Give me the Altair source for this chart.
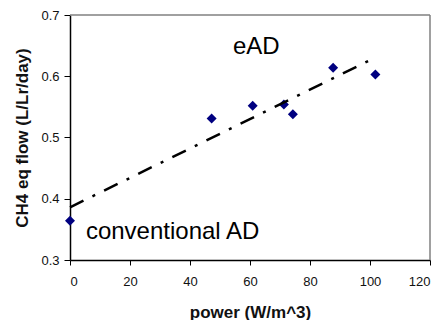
import altair as alt
import pandas as pd

# measured points
power = [0, 47.2, 60.9, 71.3, 74.3, 87.7, 101.8]
ch4_flow = [0.364, 0.531, 0.552, 0.554, 0.538, 0.614, 0.603]

# linear trend line end points
trend_x = [0, 100.3]
trend_y = [0.386, 0.627]

# annotations
ann_text = ["eAD", "conventional AD"]
ann_x = [54.3, 5.3]
ann_y = [0.636, 0.334]

x_ticks = [0, 20, 40, 60, 80, 100, 120]
y_ticks = [0.3, 0.4, 0.5, 0.6, 0.7]

FONT = "Liberation Sans"

pts = pd.DataFrame({"power": power, "ch4": ch4_flow})
trend = pd.DataFrame({"power": trend_x, "ch4": trend_y})
ann = pd.DataFrame({"label": ann_text, "power": ann_x, "ch4": ann_y})

xscale = alt.Scale(domain=[0, 120], nice=False, zero=False)
yscale = alt.Scale(domain=[0.3, 0.7], nice=False, zero=False)

xaxis = alt.Axis(
    title="power (W/m^3)", values=x_ticks, grid=False, format="d",
    domainColor="black", domainWidth=1.5, tickColor="black", tickSize=5, labelPadding=10,
    labelFont=FONT, labelFontSize=13, labelColor="#111",
    titleFont=FONT, titleFontSize=17, titleFontWeight="bold", titleColor="#111",
    titleY=57, titleBaseline="alphabetic",
)
yaxis = alt.Axis(
    title="CH4 eq flow (L/Lr/day)", values=y_ticks, grid=False, format=".1f",
    domainColor="black", domainWidth=1.5, tickColor="black", tickSize=6, labelPadding=5,
    labelFont=FONT, labelFontSize=13, labelColor="#111",
    titleFont=FONT, titleFontSize=17, titleFontWeight="bold", titleColor="#111",
    titleX=-43, titleY=122.5, titleAngle=-90, titleAlign="center",
    titleBaseline="alphabetic",
)

frame = pd.DataFrame({"x0": [0], "x1": [120], "y0": [0.3], "y1": [0.7]})

# plot-area frame (top and right edges, gray as in the original)
frame_top = alt.Chart(frame).mark_rule(color="#808080", strokeWidth=1.5).encode(
    x=alt.X("x0:Q", scale=xscale), x2="x1:Q",
    y=alt.Y("y1:Q", scale=yscale),
)
frame_right = alt.Chart(frame).mark_rule(color="#808080", strokeWidth=1.5).encode(
    x=alt.X("x1:Q", scale=xscale),
    y=alt.Y("y0:Q", scale=yscale), y2="y1:Q",
)

points = alt.Chart(pts).mark_point(
    shape="diamond", filled=True, color="#000080", size=100, opacity=1
).encode(
    x=alt.X("power:Q", scale=xscale, axis=xaxis),
    y=alt.Y("ch4:Q", scale=yscale, axis=yaxis),
)

line = alt.Chart(trend).mark_line(
    color="black", strokeWidth=2.5, strokeDash=[15, 10, 3, 10]
).encode(
    x=alt.X("power:Q", scale=xscale),
    y=alt.Y("ch4:Q", scale=yscale),
)

text = alt.Chart(ann).mark_text(
    align="left", baseline="alphabetic", font=FONT, fontSize=24, color="black"
).encode(
    x=alt.X("power:Q", scale=xscale),
    y=alt.Y("ch4:Q", scale=yscale),
    text="label:N",
)

chart = alt.layer(points, frame_top, frame_right, line, text).properties(
    width=360, height=245,
    background="white",
    autosize=alt.AutoSizeParams(type="none"),
    padding={"left": 62, "top": 7, "right": 5, "bottom": 60},
).configure_view(stroke=None)

chart.save("out.html", embed_options={"renderer": "svg", "actions": False})
